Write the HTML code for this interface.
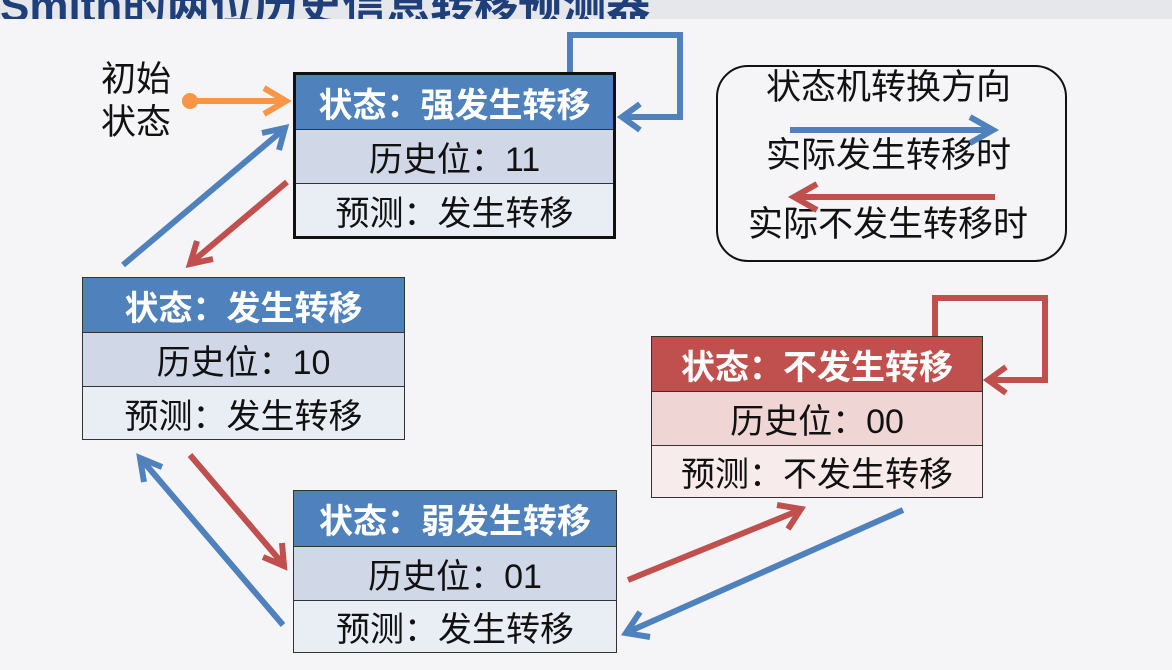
<!DOCTYPE html>
<html><head><meta charset="utf-8"><style>
body{margin:0;width:1172px;height:670px;background:#f5f5f7;position:relative;overflow:hidden;font-family:"Liberation Sans","Noto Sans CJK SC",sans-serif}
.top{position:absolute;left:0;top:0;width:1172px;height:19px;background:#e6e7ea;overflow:hidden}
.top span{position:absolute;left:0;top:-30px;font-size:44px;font-weight:bold;color:#1f3f7a;white-space:nowrap}
.box{position:absolute;border:1.5px solid #333;box-sizing:border-box}
.box div{display:flex;align-items:center;justify-content:center;font-size:34px;color:#111;border-top:1.5px solid #333;box-sizing:border-box;white-space:nowrap}
.box div.h{color:#fff;font-weight:bold;border-top:none}
.lg{position:absolute;left:716px;top:65px;width:351px;height:197px;border:2.5px solid #111;border-radius:32px;box-sizing:border-box}
.t{position:absolute;font-size:35px;color:#111;white-space:nowrap;line-height:40px}
</style></head><body>
<div class="top"><span>Smith的两位历史信息转移预测器</span></div>

<div class="box" style="left:293px;top:72px;width:323px;border:3px solid #111">
<div class="h" style="height:54px;background:#4f81bd">状态：强发生转移</div>
<div style="height:54px;background:#d0d8e8">历史位：11</div>
<div style="height:53px;background:#e9edf4">预测：发生转移</div></div>

<div class="box" style="left:82px;top:277px;width:323px">
<div class="h" style="height:54px;background:#4f81bd">状态：发生转移</div>
<div style="height:54px;background:#d0d8e8">历史位：10</div>
<div style="height:53px;background:#e9edf4">预测：发生转移</div></div>

<div class="box" style="left:293px;top:490px;width:324px">
<div class="h" style="height:55px;background:#4f81bd">状态：弱发生转移</div>
<div style="height:54px;background:#d0d8e8">历史位：01</div>
<div style="height:52px;background:#e9edf4">预测：发生转移</div></div>

<div class="box" style="left:651px;top:336px;width:332px">
<div class="h" style="height:54px;background:#c0504d">状态：不发生转移</div>
<div style="height:54px;background:#efd5d4">历史位：00</div>
<div style="height:52px;background:#f7eceb">预测：不发生转移</div></div>

<div class="lg"></div>
<div class="t" style="left:766px;top:68px">状态机转换方向</div>
<div class="t" style="left:766px;top:136px">实际发生转移时</div>
<div class="t" style="left:748px;top:205px">实际不发生转移时</div>
<div class="t" style="left:101px;top:60px">初始</div>
<div class="t" style="left:101px;top:103px">状态</div>

<svg width="1172" height="670" style="position:absolute;left:0;top:0" fill="none" stroke-width="6">
<g stroke="#4f81bd">
<path d="M790 130H990M970 117L993 130L970 143"/>
<path d="M123 265L283 130M262 133L285 128L279 150"/>
<path d="M570 72V35H680V117H622M640 104L622 117L640 130"/>
<path d="M283 625L142 460M144 482L140 458L162 467"/>
<path d="M903 510L628 632M640 612L626 633L650 637"/>
</g>
<g stroke="#c0504d">
<path d="M995 197H797M817 184L794 197L817 210"/>
<path d="M287 182L192 262M197 241L190 264L213 259"/>
<path d="M190 455L283 564M263 557L284 566L282 543"/>
<path d="M628 580L800 510M777 505L801 509L788 529"/>
<path d="M935 336V298H1045V380H988M1006 367L988 380L1006 393"/>
</g>
<path stroke="#f79646" d="M190 101H283M264 88L286 101L264 114"/>
<circle cx="190" cy="101" r="8" fill="#f79646" stroke="none"/>
</svg>
</body></html>
